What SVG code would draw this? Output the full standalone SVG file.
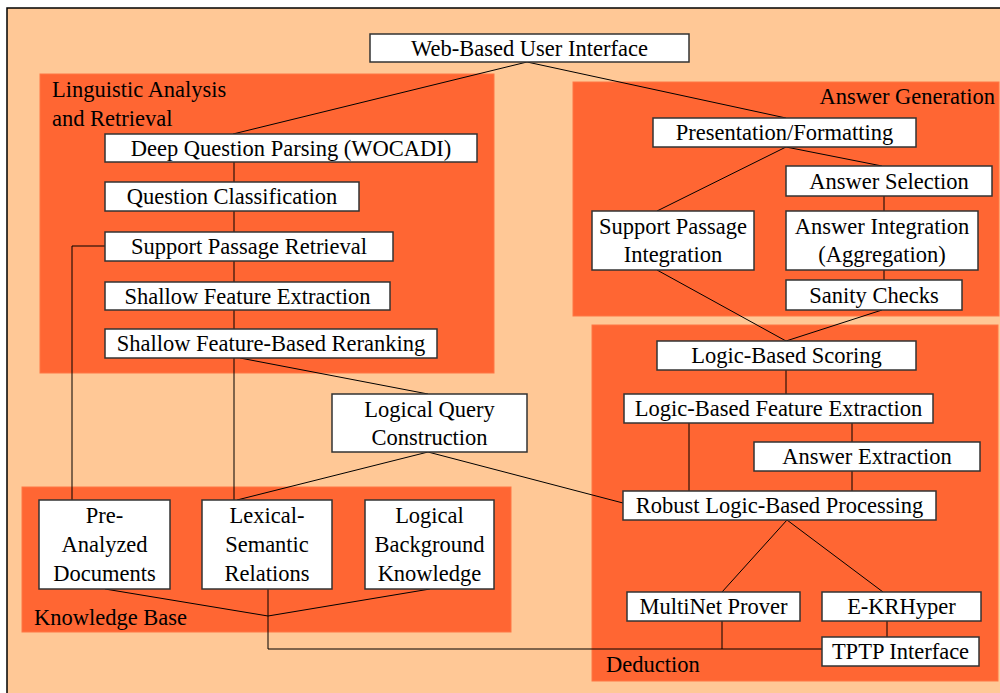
<svg xmlns="http://www.w3.org/2000/svg" width="1000" height="693" viewBox="0 0 1000 693">
<style>
.bg{fill:#FFC896;stroke:#000;stroke-width:1.5}
.grp{fill:#FF6633;stroke:#FF7744;stroke-width:1}
.box{fill:#fff;stroke:#333;stroke-width:1.5}
text{font-family:"Liberation Serif","Times New Roman",Times,"DejaVu Serif",serif;font-size:22.5px;fill:#000}
.c{text-anchor:middle}
.conn{stroke:#000;stroke-width:1;fill:none}
</style>
<rect width="1000" height="693" fill="#fff"/>
<rect class="bg" x="7" y="8" width="1000" height="700"/>
<g id="groups">
<g id="g-linguistic"><rect class="grp" x="40" y="74" width="454" height="299"/><text x="52" y="97">Linguistic Analysis</text><text x="52" y="126">and Retrieval</text></g>
<g id="g-answer"><rect class="grp" x="573" y="82" width="426" height="234"/><text x="995" y="104" text-anchor="end">Answer Generation</text></g>
<g id="g-deduction"><rect class="grp" x="592" y="325" width="406" height="356"/><text x="606" y="672">Deduction</text></g>
<g id="g-kb"><rect class="grp" x="22" y="487" width="489" height="145"/><text x="34" y="625">Knowledge Base</text></g>
</g>
<g id="connectors">
<polyline class="conn" points="527,62 233,134"/>
<polyline class="conn" points="527,62 786,118"/>
<polyline class="conn" points="234,162 234,182"/>
<polyline class="conn" points="234,211 234,232"/>
<polyline class="conn" points="234,261 234,282"/>
<polyline class="conn" points="234,310 234,329"/>
<polyline class="conn" points="105,246 72,246 72,500"/>
<polyline class="conn" points="234,358 234,500"/>
<polyline class="conn" points="240,358 428,394"/>
<polyline class="conn" points="428,452 237,500"/>
<polyline class="conn" points="428,452 623,503"/>
<polyline class="conn" points="105,589 268,616 430,589"/>
<polyline class="conn" points="268,589 268,649 822,649"/>
<polyline class="conn" points="722,621 722,649"/>
<polyline class="conn" points="786,147 657,211"/>
<polyline class="conn" points="786,147 882,166"/>
<polyline class="conn" points="884,196 884,211"/>
<polyline class="conn" points="884,270 884,280"/>
<polyline class="conn" points="657,270 786,341 882,310"/>
<polyline class="conn" points="786,370 786,394"/>
<polyline class="conn" points="689,423 689,491"/>
<polyline class="conn" points="852,423 852,442"/>
<polyline class="conn" points="852,471 852,491"/>
<polyline class="conn" points="722,592 787,520 883,592"/>
<polyline class="conn" points="887,621 887,637"/>
</g>
<g id="n-web"><rect class="box" x="370" y="34" width="319" height="28"/><text class="c" x="529.5" y="56">Web-Based User Interface</text></g>
<g id="n-dqp"><rect class="box" x="105" y="134" width="372" height="28"/><text class="c" x="291" y="156">Deep Question Parsing (WOCADI)</text></g>
<g id="n-qc"><rect class="box" x="105" y="182" width="254" height="29"/><text class="c" x="232" y="204">Question Classification</text></g>
<g id="n-spr"><rect class="box" x="105" y="232" width="288" height="29"/><text class="c" x="249" y="254">Support Passage Retrieval</text></g>
<g id="n-sfe"><rect class="box" x="105" y="282" width="285" height="28"/><text class="c" x="247.5" y="304">Shallow Feature Extraction</text></g>
<g id="n-sfbr"><rect class="box" x="105" y="329" width="332" height="29"/><text class="c" x="271" y="351">Shallow Feature-Based Reranking</text></g>
<g id="n-lqc"><rect class="box" x="332" y="394" width="195" height="58"/><text class="c" x="429.5" y="417">Logical Query</text><text class="c" x="429.5" y="445">Construction</text></g>
<g id="n-pad"><rect class="box" x="39" y="500" width="131" height="89"/><text class="c" x="104.5" y="523">Pre-</text><text class="c" x="104.5" y="552">Analyzed</text><text class="c" x="104.5" y="581">Documents</text></g>
<g id="n-lsr"><rect class="box" x="202" y="500" width="130" height="89"/><text class="c" x="267" y="523">Lexical-</text><text class="c" x="267" y="552">Semantic</text><text class="c" x="267" y="581">Relations</text></g>
<g id="n-lbk"><rect class="box" x="365" y="500" width="129" height="89"/><text class="c" x="429.5" y="523">Logical</text><text class="c" x="429.5" y="552">Background</text><text class="c" x="429.5" y="581">Knowledge</text></g>
<g id="n-pf"><rect class="box" x="653" y="118" width="263" height="29"/><text class="c" x="784.5" y="140">Presentation/Formatting</text></g>
<g id="n-as"><rect class="box" x="786" y="166" width="206" height="30"/><text class="c" x="889" y="189">Answer Selection</text></g>
<g id="n-spi"><rect class="box" x="592" y="211" width="162" height="59"/><text class="c" x="673" y="234">Support Passage</text><text class="c" x="673" y="262">Integration</text></g>
<g id="n-ai"><rect class="box" x="786" y="211" width="192" height="59"/><text class="c" x="882" y="234">Answer Integration</text><text class="c" x="882" y="262">(Aggregation)</text></g>
<g id="n-sc"><rect class="box" x="786" y="280" width="176" height="30"/><text class="c" x="874" y="303">Sanity Checks</text></g>
<g id="n-lbs"><rect class="box" x="657" y="341" width="259" height="29"/><text class="c" x="786.5" y="363">Logic-Based Scoring</text></g>
<g id="n-lbfe"><rect class="box" x="624" y="394" width="309" height="29"/><text class="c" x="778.5" y="416">Logic-Based Feature Extraction</text></g>
<g id="n-ae"><rect class="box" x="754" y="442" width="226" height="29"/><text class="c" x="867" y="464">Answer Extraction</text></g>
<g id="n-rlbp"><rect class="box" x="623" y="491" width="313" height="29"/><text class="c" x="779.5" y="513">Robust Logic-Based Processing</text></g>
<g id="n-mnp"><rect class="box" x="627" y="592" width="173" height="29"/><text class="c" x="713.5" y="614">MultiNet Prover</text></g>
<g id="n-ekr"><rect class="box" x="822" y="592" width="159" height="29"/><text class="c" x="901.5" y="614">E-KRHyper</text></g>
<g id="n-tptp"><rect class="box" x="822" y="637" width="157" height="29"/><text class="c" x="900.5" y="659">TPTP Interface</text></g>
</svg>
